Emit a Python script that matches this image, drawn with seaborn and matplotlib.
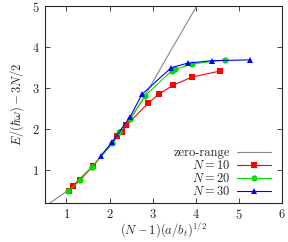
import numpy as np
import pandas as pd
import seaborn as sns
import matplotlib.pyplot as plt

sns.set_style("ticks")
plt.rcParams.update({
    "font.family": "cmr10",
    "mathtext.fontset": "cm",
    "axes.formatter.use_mathtext": True,
    "font.size": 9,
    "axes.linewidth": 0.8,
    "xtick.direction": "in",
    "ytick.direction": "in",
    "xtick.top": True,
    "ytick.right": True,
})

# zero-range curve
zr_x = [0.62, 1.02, 1.60, 2.06, 2.45, 2.80, 3.40, 4.05]
zr_y = [0.21, 0.50, 1.10, 1.64, 2.18, 2.78, 3.88, 5.05]

x_n10 = [1.05, 1.14, 1.32, 1.61, 2.18, 2.29, 2.39, 2.90, 3.15, 3.47, 3.91, 4.57]
y_n10 = [0.50, 0.61, 0.77, 1.10, 1.84, 1.94, 2.10, 2.64, 2.86, 3.07, 3.27, 3.42]

x_n20 = [1.04, 1.32, 1.60, 2.06, 2.21, 2.47, 2.83, 3.44, 3.52, 3.92, 4.68]
y_n20 = [0.49, 0.76, 1.09, 1.66, 1.93, 2.25, 2.82, 3.42, 3.46, 3.59, 3.69]

x_n30 = [1.80, 2.06, 2.48, 2.75, 3.43, 3.81, 4.37, 5.27]
y_n30 = [1.36, 1.69, 2.31, 2.85, 3.50, 3.61, 3.67, 3.69]

labels = ["$N = 10$", "$N = 20$", "$N = 30$"]
colors = ["#ff0000", "#00e000", "#0000ff"]
markers = ["s", "o", "^"]

df = pd.concat([
    pd.DataFrame({"x": x_n10, "y": y_n10, "N": labels[0]}),
    pd.DataFrame({"x": x_n20, "y": y_n20, "N": labels[1]}),
    pd.DataFrame({"x": x_n30, "y": y_n30, "N": labels[2]}),
])
zr = pd.DataFrame({"x": zr_x, "y": zr_y})

fig = plt.figure(figsize=(2.88, 2.42), dpi=100)
ax = fig.add_axes([0.156, 0.16, 0.823, 0.815])

sns.lineplot(data=zr, x="x", y="y", color="#888888", lw=0.8, ax=ax, label="zero-range", sort=False)
for lab, c, m in zip(labels, colors, markers):
    sub = df[df["N"] == lab]
    sns.lineplot(data=sub, x="x", y="y", color=c, marker=m, markersize=4.2 if m != "o" else 4.5,
                 markeredgewidth=0, lw=0.8, ax=ax, label=lab, sort=False)

ax.set_xlim(0.5, 6)
ax.set_ylim(0.2, 5)
ax.set_xticks([1, 2, 3, 4, 5, 6])
ax.set_yticks([1, 2, 3, 4, 5])
ax.tick_params(length=3.5, width=0.6, pad=4)
ax.tick_params(axis="x", pad=3.5)
ax.set_xlabel(r"$(N-1)(a/b_t)^{1/2}$", labelpad=-1)
ax.set_ylabel(r"$E/(\hbar\omega) - 3N/2$", labelpad=4)

ax.legend(loc="lower right", bbox_to_anchor=(0.975, 0.0), frameon=False, markerfirst=False,
          handlelength=2.7, handletextpad=0.6, labelspacing=0.0, borderpad=0.2,
          borderaxespad=0.2, fontsize=9)

fig.savefig("out.png", dpi=100)
